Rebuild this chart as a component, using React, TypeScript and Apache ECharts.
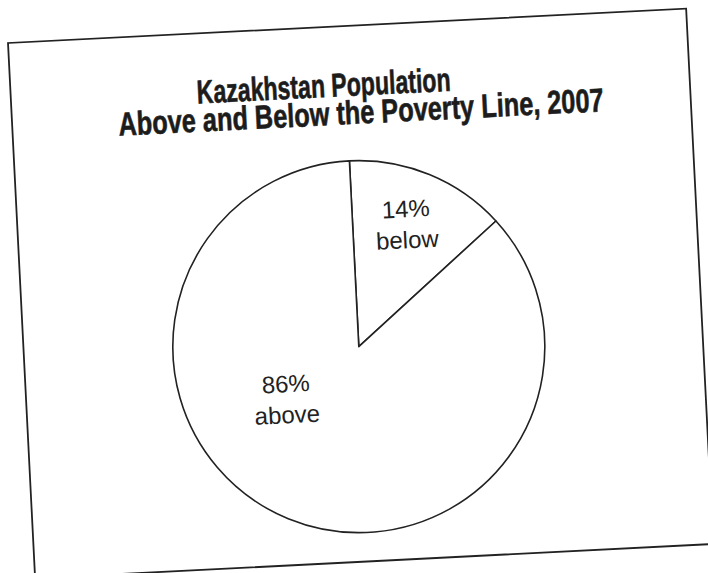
import React, { useEffect, useRef } from 'react';
import * as echarts from 'echarts';

const categories = ['below', 'above'];
const values = [14, 86];
const titleLines = ['Kazakhstan Population', 'Above and Below the Poverty Line, 2007'];

const TITLE_FONT = "'Liberation Sans', Arial, Helvetica, sans-serif";
const LABEL_FONT = "'Liberation Sans', Arial, Helvetica, sans-serif";

export default function App() {
  const ref = useRef<HTMLDivElement>(null);
  useEffect(() => {
    const chart = echarts.init(ref.current!, null, { renderer: 'svg' });
    const labelOffsets: Record<string, number[]> = { below: [13, -33], above: [-34, -38] };
    const titleX = [315, 351];
    const titleY = [60.5, 88.5];
    const titleScale = [0.7, 0.768];
    chart.setOption({
      animation: false,
      backgroundColor: 'transparent',
      graphic: [
        {
          type: 'rect',
          shape: { x: 2, y: 2, width: 679, height: 536 },
          style: { fill: 'none', stroke: '#222', lineWidth: 1.8 },
          silent: true,
        },
        ...titleLines.map((t, i) => ({
          type: 'text',
          x: titleX[i],
          y: titleY[i],
          scaleX: titleScale[i],
          silent: true,
          style: {
            text: t,
            x: 0,
            y: 0,
            align: 'center',
            verticalAlign: 'middle',
            font: `bold 33px ${TITLE_FONT}`,
            fill: '#1c1c1c',
            stroke: '#1c1c1c',
            lineWidth: 0.6,
          },
        })),
      ],
      series: [
        {
          type: 'pie',
          center: [337, 323],
          radius: [0, 186],
          startAngle: 90,
          clockwise: true,
          silent: true,
          emphasis: { disabled: true },
          itemStyle: { color: '#ffffff', borderColor: '#222', borderWidth: 1.6 },
          labelLine: { show: false },
          label: {
            show: true,
            position: 'inside',
            formatter: '{c}%\n{b}',
            fontFamily: LABEL_FONT,
            fontSize: 24,
            lineHeight: 31,
            color: '#222',
          },
          data: categories.map((name, i) => ({
            name,
            value: values[i],
            label: { offset: labelOffsets[name] },
          })),
        },
      ],
    });
    return () => chart.dispose();
  }, []);
  return (
    <div style={{ position: 'fixed', left: 0, top: 0, width: 708, height: 573, overflow: 'hidden', background: '#fff' }}>
      <div
        ref={ref}
        style={{
          position: 'absolute',
          left: 6.3,
          top: 40.7,
          width: 684,
          height: 541,
          transform: 'rotate(-2.9deg)',
          transformOrigin: '2px 2px',
        }}
      />
    </div>
  );
}
